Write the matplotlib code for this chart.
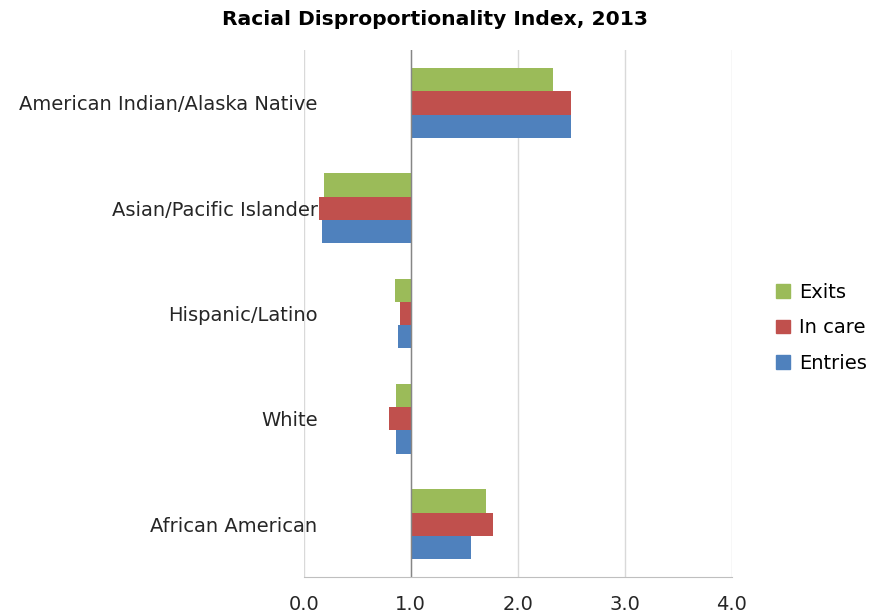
import matplotlib
matplotlib.use("Agg")
import matplotlib.pyplot as plt
import numpy as np
from matplotlib.patches import Patch

categories = ["African American", "White", "Hispanic/Latino",
              "Asian/Pacific Islander", "American Indian/Alaska Native"]
entries = [1.56, 0.86, 0.88, 0.17, 2.50]
in_care = [1.77, 0.80, 0.90, 0.14, 2.50]
exits = [1.70, 0.86, 0.85, 0.19, 2.33]
baseline = 1.0
xticks = [0.0, 1.0, 2.0, 3.0, 4.0]
xticklabels = ["0.0", "1.0", "2.0", "3.0", "4.0"]

c_entries = "#4F81BD"
c_incare = "#C0504D"
c_exits = "#9BBB59"

plt.rcParams['font.family'] = ['DejaVu Sans']

fig = plt.figure(figsize=(8.69, 6.13), dpi=100)
ax = fig.add_axes([0.3495, 0.059, 0.4925, 0.859])

y = np.arange(len(categories))
h = 0.22
for off, vals, col in [(-h, entries, c_entries), (0, in_care, c_incare), (h, exits, c_exits)]:
    widths = [v - baseline for v in vals]
    ax.barh(y + off, widths, height=h, left=baseline, color=col, zorder=3)

ax.set_xlim(0, 4)
ax.set_ylim(-0.5, len(categories) - 0.5)
ax.set_xticks(xticks)
ax.set_xticklabels(xticklabels, fontsize=14, color="#262626")
ax.set_yticks(y)
ax.set_yticklabels(categories, fontsize=14, color="#262626")
ax.tick_params(axis='y', length=0, pad=-10)
ax.tick_params(axis='x', length=0, pad=13)
for lab in ax.get_yticklabels():
    lab.set_zorder(5)
ax.grid(axis='x', color="#D9D9D9", linewidth=1, zorder=0)
ax.axvline(baseline, color="#868686", linewidth=1, zorder=4)
for s in ["top", "right", "left"]:
    ax.spines[s].set_visible(False)
ax.spines["bottom"].set_color("#BFBFBF")
ax.spines["bottom"].set_zorder(4)

fig.text(0.5, 0.968, "Racial Disproportionality Index, 2013", ha="center", va="center",
         fontsize=14.6, fontweight="bold", color="black")

handles = [Patch(color=c_exits, label="Exits"),
           Patch(color=c_incare, label="In care"),
           Patch(color=c_entries, label="Entries")]
fig.legend(handles=handles, loc="center left", bbox_to_anchor=(0.893, 0.465),
           frameon=False, fontsize=14, handlelength=0.7, handleheight=0.7,
           handletextpad=0.5, labelspacing=0.85, borderaxespad=0, borderpad=0)

fig.savefig("out.png", dpi=100)
